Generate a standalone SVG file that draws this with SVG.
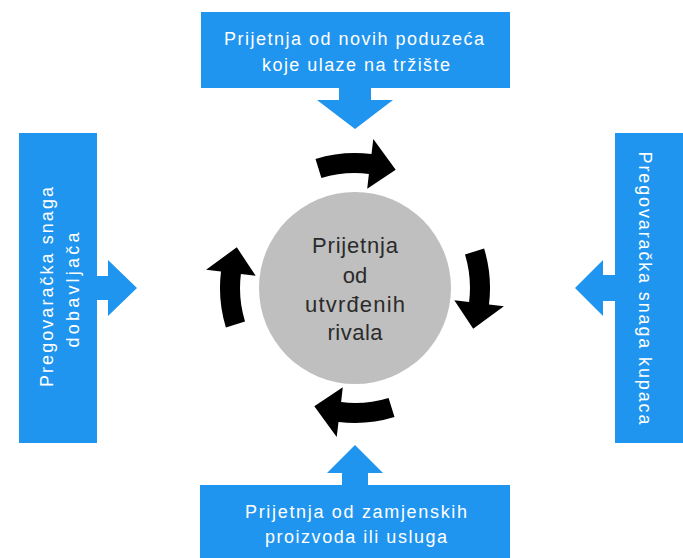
<svg xmlns="http://www.w3.org/2000/svg" width="683" height="558" viewBox="0 0 683 558">
<style>
.box{fill:#1F95EF}
.bt{fill:#ffffff;font-family:"Liberation Sans",Arial,sans-serif;font-size:18px;text-anchor:middle}
.ct{fill:#2b2b2b;font-family:"Liberation Sans",Arial,sans-serif;font-size:22px;text-anchor:middle}
.cyc{fill:#000000}
</style>
<defs>
<path id="carrow" d="M129.1,-39.5 A135,135 0 0 1 134.0,16.5 L148.9,18.3 L118.2,40.7 L99.3,12.2 L114.1,13.9 A115,115 0 0 0 110.0,-33.6 Z"/>
</defs>
<rect width="683" height="558" fill="#ffffff"/>
<g id="top-box">
<rect class="box" x="201" y="12" width="309" height="76"/>
<polygon class="box" points="339,87 339,100 317,100 355,129 393,100 371,100 371,87"/>
<text class="bt" x="354" y="45" textLength="260" lengthAdjust="spacing">Prijetnja od novih poduzeća</text>
<text class="bt" x="356" y="71" textLength="188" lengthAdjust="spacing">koje ulaze na tržište</text>
</g>
<g id="left-box">
<rect class="box" x="19" y="133" width="78" height="310"/>
<polygon class="box" points="96,276 108,276 108,260 137,288 108,316 108,300 96,300"/>
<text class="bt" transform="translate(53,287) rotate(-90)" x="0" y="0" textLength="200" lengthAdjust="spacing">Pregovaračka snaga</text>
<text class="bt" transform="translate(79,290) rotate(-90)" x="0" y="0" textLength="115" lengthAdjust="spacing">dobavljača</text>
</g>
<g id="right-box">
<rect class="box" x="615" y="133" width="68" height="310"/>
<polygon class="box" points="616,275 603,275 603,260 575,288 603,316 603,301 616,301"/>
<text class="bt" transform="translate(639,288) rotate(90)" x="0" y="0" textLength="273" lengthAdjust="spacing">Pregovaračka snaga kupaca</text>
</g>
<g id="bottom-box">
<rect class="box" x="200" y="485" width="310" height="73"/>
<polygon class="box" points="342,486 342,473 327,473 355,445 383,473 368,473 368,486"/>
<text class="bt" x="356" y="518" textLength="222" lengthAdjust="spacing">Prijetnja od zamjenskih</text>
<text class="bt" x="356" y="543" textLength="182" lengthAdjust="spacing">proizvoda ili usluga</text>
</g>
<g id="center">
<circle cx="355" cy="288" r="96" fill="#BFBFBF"/>
<text class="ct" x="355" y="253" textLength="86" lengthAdjust="spacing">Prijetnja</text>
<text class="ct" x="355" y="283">od</text>
<text class="ct" x="355" y="312" textLength="100" lengthAdjust="spacing">utvrđenih</text>
<text class="ct" x="355" y="340" textLength="55" lengthAdjust="spacing">rivala</text>
</g>
<g id="connectors">
<use href="#carrow" class="cyc" transform="translate(355,288) rotate(0)"/>
<use href="#carrow" class="cyc" transform="translate(355,288) rotate(90)"/>
<use href="#carrow" class="cyc" transform="translate(355,288) rotate(180)"/>
<use href="#carrow" class="cyc" transform="translate(355,288) rotate(270)"/>
</g>
</svg>
